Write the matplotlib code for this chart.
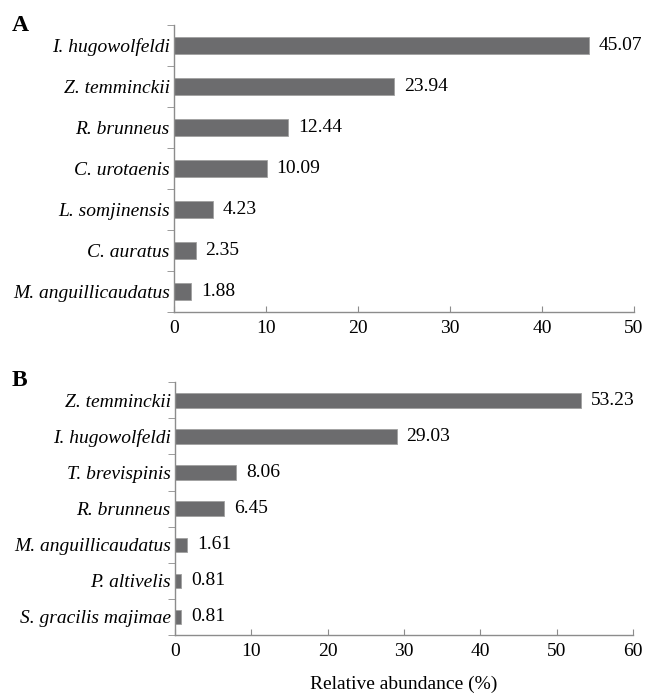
import matplotlib.pyplot as plt
from matplotlib.ticker import FixedLocator

plt.rcParams['font.family'] = ['Liberation Serif', 'DejaVu Serif']

# Panel A data (top to bottom)
species_a = ["I. hugowolfeldi", "Z. temminckii", "R. brunneus", "C. urotaenis",
             "L. somjinensis", "C. auratus", "M. anguillicaudatus"]
values_a = [45.07, 23.94, 12.44, 10.09, 4.23, 2.35, 1.88]

# Panel B data (top to bottom)
species_b = ["Z. temminckii", "I. hugowolfeldi", "T. brevispinis", "R. brunneus",
             "M. anguillicaudatus", "P. altivelis", "S. gracilis majimae"]
values_b = [53.23, 29.03, 8.06, 6.45, 1.61, 0.81, 0.81]

xticks_a = [0, 10, 20, 30, 40, 50]
xticks_b = [0, 10, 20, 30, 40, 50, 60]

bar_color = '#6c6c6e'
axis_color = '#8c8c8c'
fs = 14


def draw_panel(ax, names, vals, ticks):
    n = len(names)
    pos = list(range(n))[::-1]
    ax.barh(pos, vals, height=0.4, color=bar_color, edgecolor='#a0a0a0', linewidth=0.6)
    for p, v in zip(pos, vals):
        ax.annotate(f"{v:.2f}", (v, p), xytext=(7, 0), textcoords='offset points',
                    va='center', ha='left', fontsize=fs)
    ax.set_ylim(-0.5, n - 0.5)
    ax.set_xlim(0, ticks[-1])
    ax.set_xticks(ticks)
    ax.set_yticks(pos)
    ax.set_yticklabels(names, fontstyle='italic', fontsize=fs)
    # category boundary ticks, Excel style
    ax.yaxis.set_minor_locator(FixedLocator([i - 0.5 for i in range(n + 1)]))
    ax.tick_params(axis='y', which='major', length=0, pad=3)
    ax.tick_params(axis='y', which='minor', length=5, direction='out', color=axis_color)
    ax.tick_params(axis='x', length=4, direction='in', color=axis_color, labelsize=fs, pad=6)
    for s in ['top', 'right']:
        ax.spines[s].set_visible(False)
    for s in ['left', 'bottom']:
        ax.spines[s].set_color(axis_color)
        ax.spines[s].set_linewidth(1.0)


fig = plt.figure(figsize=(6.6, 6.95), dpi=100)
ax_a = fig.add_axes([0.2636, 0.551, 0.697, 0.413])
ax_b = fig.add_axes([0.265, 0.0863, 0.694, 0.3637])

draw_panel(ax_a, species_a, values_a, xticks_a)
draw_panel(ax_b, species_b, values_b, xticks_b)
ax_b.set_xlabel('Relative abundance (%)', fontsize=fs, labelpad=11)

fig.text(12 / 660, 1 - 31 / 695, 'A', fontsize=17, fontweight='bold', va='baseline', ha='left')
fig.text(12 / 660, 1 - 386 / 695, 'B', fontsize=17, fontweight='bold', va='baseline', ha='left')

fig.savefig('out.png', dpi=100)
